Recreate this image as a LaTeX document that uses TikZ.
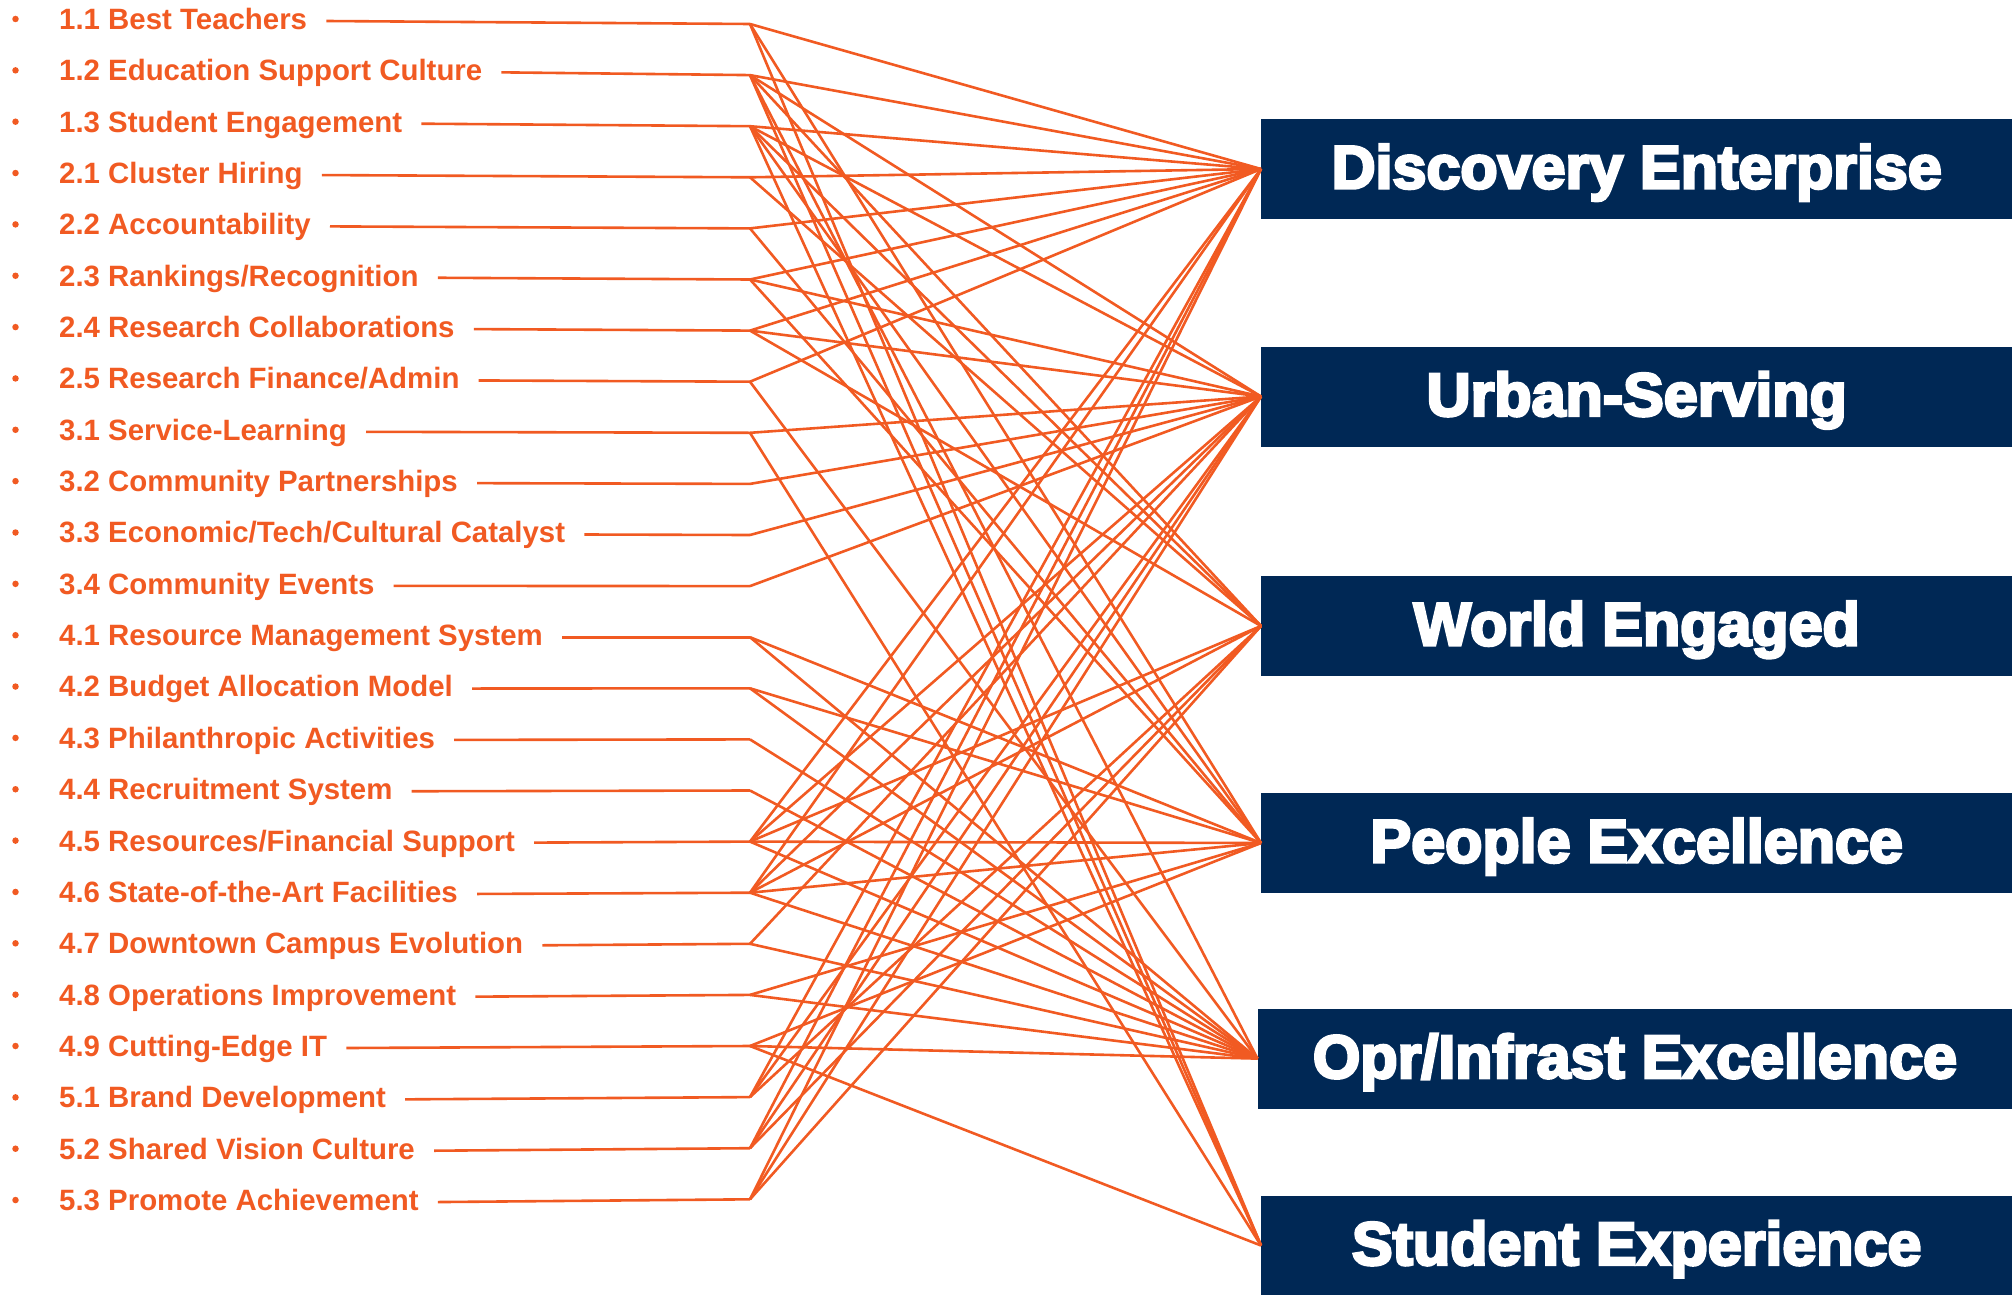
\documentclass[tikz,border=0pt]{standalone}
\usepackage{fontspec}
\setmainfont{Liberation Sans}
\newfontfamily\boxfont[BoldFeatures={FakeBold=4.5}]{Liberation Sans}
\definecolor{orng}{RGB}{241,90,34}
\definecolor{navy}{RGB}{0,40,85}
\begin{document}
\begin{tikzpicture}[x=1pt,y=-1pt,
  item/.style={anchor=west, inner sep=0pt, text height=20.8pt, text depth=0pt, text=orng,
    font=\fontsize{29.4}{34}\selectfont\bfseries},
  bul/.style={circle, fill=orng, inner sep=0pt, minimum size=6.5pt},
  link/.style={draw=orng, line width=2.6pt},
  goal/.style={fill=navy, text=white, anchor=west, minimum height=100pt, inner sep=0pt,
    text height=43.7pt, text depth=5pt,
    font=\boxfont\fontsize{61}{70}\selectfont\bfseries}]
\useasboundingbox (0,0) rectangle (2012,1295);

% goal boxes
\path (1261,169) node[goal, minimum width=751pt] (de) {Discovery Enterprise};
\path (1261,396.5) node[goal, minimum width=751pt] (us) {Urban-Serving};
\path (1261,626) node[goal, minimum width=751pt] (we) {World Engaged};
\path (1261,843) node[goal, minimum width=751pt] (pe) {People Excellence};
\path (1257.5,1058.6) node[goal, minimum width=754.5pt] (oi) {Opr/Infrast Excellence};
\path (1261,1245.5) node[goal, minimum width=751pt, minimum height=99pt] (se) {Student Experience};

% items
\foreach \i/\txt in {
  1/{1.1 Best Teachers},
  2/{1.2 Education Support Culture},
  3/{1.3 Student Engagement},
  4/{2.1 Cluster Hiring},
  5/{2.2 Accountability},
  6/{2.3 Rankings/Recognition},
  7/{2.4 Research Collaborations},
  8/{2.5 Research Finance/Admin},
  9/{3.1 Service-Learning},
  10/{3.2 Community Partnerships},
  11/{3.3 Economic/Tech/Cultural Catalyst},
  12/{3.4 Community Events},
  13/{4.1 Resource Management System},
  14/{4.2 Budget Allocation Model},
  15/{4.3 Philanthropic Activities},
  16/{4.4 Recruitment System},
  17/{4.5 Resources/Financial Support},
  18/{4.6 State-of-the-Art Facilities},
  19/{4.7 Downtown Campus Evolution},
  20/{4.8 Operations Improvement},
  21/{4.9 Cutting-Edge IT},
  22/{5.1 Brand Development},
  23/{5.2 Shared Vision Culture},
  24/{5.3 Promote Achievement}}
{
  \pgfmathsetmacro{\yy}{24+51.1*(\i-1)}
  \pgfmathsetmacro{\ty}{19+51.35*(\i-1)}
  \node[bul] (b\i) at (15.5,\ty) {};
  \node[item] (t\i) at (59,\ty) {\txt};
  \coordinate (j\i) at (750,\yy);
  \draw[link] ([xshift=19pt,yshift=-2pt]t\i.east) -- (j\i);
}

% connectors from junctions to goals
\foreach \i/\tl in {
  1/{de,pe,se},
  2/{de,us,we,oi,se},
  3/{de,us,we,pe,se},
  4/{de,we},
  5/{de,pe},
  6/{de,us,pe},
  7/{de,us,we},
  8/{de,oi},
  9/{us,se},
  10/{us},
  11/{us},
  12/{us},
  13/{pe,oi},
  14/{pe,oi},
  15/{oi},
  16/{oi},
  17/{de,us,we,pe,oi},
  18/{de,us,we,pe,oi},
  19/{us,oi},
  20/{pe,oi},
  21/{pe,oi,se},
  22/{de,us,we},
  23/{de,us,we},
  24/{de,us,we}}
{
  \foreach \t in \tl { \draw[link] (j\i) -- (\t.west); }
}
\end{tikzpicture}
\end{document}
